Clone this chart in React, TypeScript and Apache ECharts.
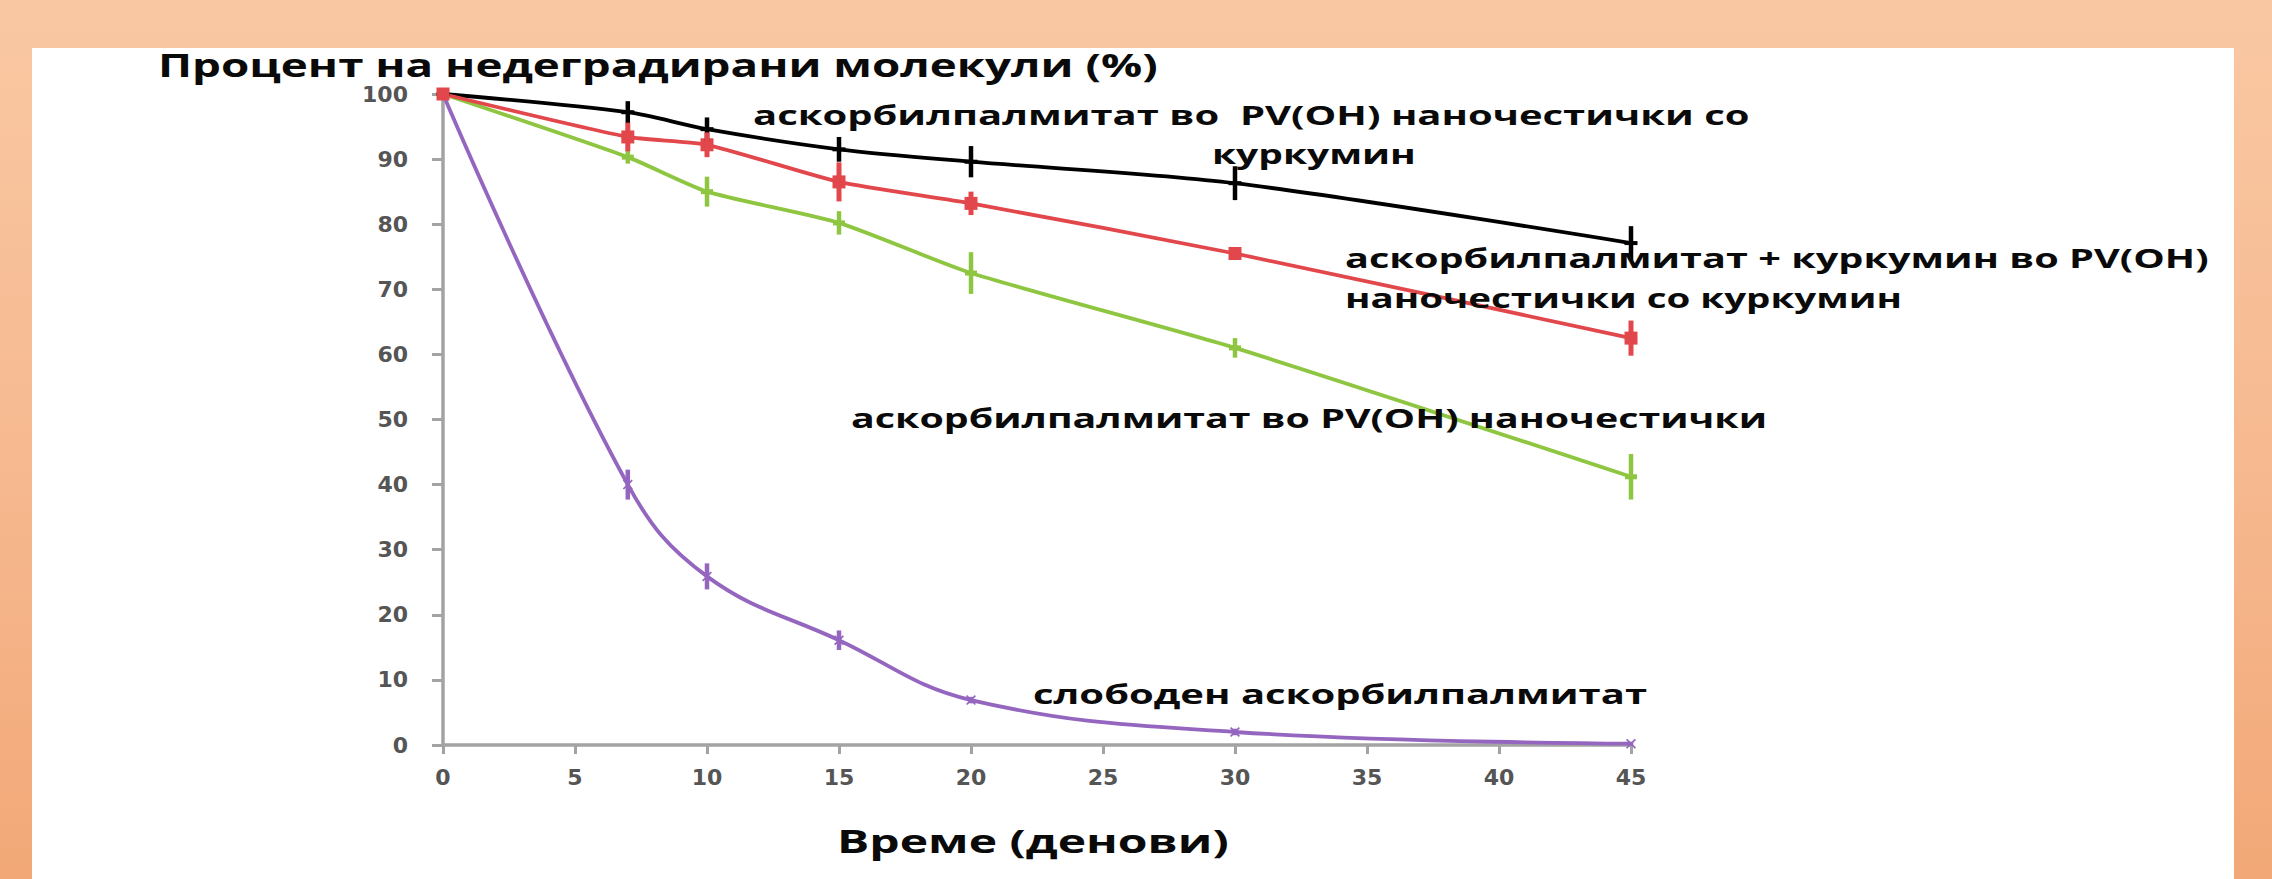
import React, { useEffect, useRef } from "react";
import * as echarts from "echarts";

// ---- data ----
const days = [0, 7, 10, 15, 20, 30, 45];
const xTicks = [0, 5, 10, 15, 20, 25, 30, 35, 40, 45];
const yTicks = [0, 10, 20, 30, 40, 50, 60, 70, 80, 90, 100];

const blackName = "аскорбилпалмитат во PV(OH) наночестички со куркумин";
const blackValues = [100, 97.2, 94.6, 91.5, 89.6, 86.3, 77.1];
const blackErrors = [0, 1.7, 1.8, 1.9, 2.4, 2.6, 2.6];

const redName = "аскорбилпалмитат + куркумин во PV(OH) наночестички со куркумин";
const redValues = [100, 93.4, 92.2, 86.5, 83.2, 75.5, 62.5];
const redErrors = [0, 2.2, 1.9, 3.0, 1.8, 0.5, 2.7];

const greenName = "аскорбилпалмитат во PV(OH) наночестички";
const greenValues = [100, 90.3, 85.0, 80.2, 72.5, 61.0, 41.2];
const greenErrors = [0, 1.0, 2.3, 1.8, 3.2, 1.5, 3.5];

const purpleName = "слободен аскорбилпалмитат";
const purpleValues = [100, 40.0, 25.9, 16.1, 6.9, 2.0, 0.2];
const purpleErrors = [0, 2.3, 2.0, 1.5, 0.5, 0.5, 0.3];

const titleText = "Процент на недеградирани молекули (%)";
const xAxisTitle = "Време (денови)";
const labelTexts = [
  "аскорбилпалмитат во  PV(OH) наночестички со",
  "куркумин",
  "аскорбилпалмитат + куркумин во PV(OH)",
  "наночестички со куркумин",
  "аскорбилпалмитат во PV(OH) наночестички",
  "слободен аскорбилпалмитат",
];

// ---- layout / style ----
const W = 2272;
const H = 879;
const FONT = '"Open Sans", "Noto Sans", sans-serif';

// [left, right, baseline, fontSize]
const textBoxes: [number, number, number, number][] = [
  [753, 1750, 122, 27],
  [1212, 1416, 161, 27],
  [1345, 2209, 265, 27],
  [1345, 1902, 305, 27],
  [851, 1767, 425, 27],
  [1033, 1647, 701, 27],
];
const titleBox: [number, number, number, number] = [158, 1158, 73, 32];
const axisTitleBox: [number, number, number, number] = [837, 1229, 849, 32];

function measure(text: string, size: number, weight: string) {
  const c = document.createElement("canvas");
  const ctx = c.getContext("2d");
  if (!ctx) return text.length * size * 0.55;
  ctx.font = `${weight} ${size}px ${FONT}`;
  return ctx.measureText(text).width;
}

function stretchedText(text: string, box: [number, number, number, number], weight = "bold") {
  const [l, r, base, size] = box;
  const w = measure(text, size, weight);
  const sx = (r - l) / w;
  return {
    type: "text",
    x: l,
    y: base - 0.27 * size,
    scaleX: sx,
    z: 100,
    silent: true,
    style: {
      text,
      x: 0,
      y: 0,
      fontSize: size,
      fontFamily: FONT,
      fontWeight: weight,
      fill: "#0a0a0a",
      align: "left",
      verticalAlign: "middle",
    },
  };
}

function errorSeries(values: number[], errors: number[], color: string, width: number) {
  const data = days
    .map((d, i) => [d, values[i] - errors[i], values[i] + errors[i], errors[i]])
    .filter((p) => p[3] > 0);
  return {
    type: "custom",
    silent: true,
    z: 5,
    encode: { x: 0, y: [1, 2] },
    data,
    renderItem: (params: any, api: any) => {
      const x = api.value(0);
      const p1 = api.coord([x, api.value(1)]);
      const p2 = api.coord([x, api.value(2)]);
      return {
        type: "line",
        shape: { x1: p1[0], y1: p1[1], x2: p2[0], y2: p2[1] },
        style: { stroke: color, lineWidth: width },
      };
    },
  };
}

function lineSeries(name: string, values: number[], color: string, symbol: string, symbolSize: any, smooth: number) {
  return {
    name,
    type: "line",
    data: days.map((d, i) => [d, values[i]]),
    smooth,
    symbol,
    symbolSize,
    showSymbol: true,
    z: 4,
    lineStyle: { color, width: 3.8 },
    itemStyle: { color, borderWidth: 0 },
  };
}

const DASH = "path://M0,0H12V4H0Z";
const XMARK = "path://M0,1.2L1.2,0L5,3.8L8.8,0L10,1.2L6.2,5L10,8.8L8.8,10L5,6.2L1.2,10L0,8.8L3.8,5Z";

export default function App() {
  const ref = useRef<HTMLDivElement>(null);

  useEffect(() => {
    document.body.style.margin = "0";
    if (!ref.current) return;
    const chart = echarts.init(ref.current, null, { renderer: "svg" });
    const axisColor = "#a3a3a3";
    chart.setOption({
      animation: false,
      backgroundColor: "transparent",
      grid: { left: 443, right: W - 1631, top: 94, bottom: H - 745, containLabel: false },
      xAxis: {
        type: "value",
        min: xTicks[0],
        max: xTicks[xTicks.length - 1],
        interval: 5,
        splitLine: { show: false },
        axisLine: { show: true, onZero: false, lineStyle: { color: axisColor, width: 3.5 } },
        axisTick: { show: true, length: 9, lineStyle: { color: axisColor, width: 3 } },
        axisLabel: {
          margin: 21,
          color: "#555555",
          fontSize: 22,
          fontWeight: "bold",
          fontFamily: "DejaVu Sans",
        },
      },
      yAxis: {
        type: "value",
        min: yTicks[0],
        max: yTicks[yTicks.length - 1],
        interval: 10,
        splitLine: { show: false },
        axisLine: { show: true, onZero: false, lineStyle: { color: axisColor, width: 3.5 } },
        axisTick: { show: true, length: 11, lineStyle: { color: axisColor, width: 3 } },
        axisLabel: {
          margin: 35,
          color: "#555555",
          fontSize: 22,
          fontWeight: "bold",
          fontFamily: "DejaVu Sans",
        },
      },
      series: [
        lineSeries(purpleName, purpleValues, "#9466bf", XMARK, 10, 0.4),
        errorSeries(purpleValues, purpleErrors, "#9466bf", 4.5),
        lineSeries(greenName, greenValues, "#8ec641", DASH, [12, 5], 0.2),
        errorSeries(greenValues, greenErrors, "#8ec641", 4.5),
        lineSeries(blackName, blackValues, "#000000", DASH, [13, 4], 0.3),
        errorSeries(blackValues, blackErrors, "#000000", 4.5),
        lineSeries(redName, redValues, "#e2474b", "rect", 13, 0.2),
        errorSeries(redValues, redErrors, "#e2474b", 5),
      ],
      graphic: [
        stretchedText(titleText, titleBox, "bold"),
        stretchedText(xAxisTitle, axisTitleBox, "bold"),
        ...labelTexts.map((t, i) => stretchedText(t, textBoxes[i], "bold")),
      ],
    });
    return () => chart.dispose();
  }, []);

  return (
    <div
      style={{
        position: "relative",
        width: W,
        height: H,
        overflow: "hidden",
        background: "linear-gradient(to bottom, #f9c8a3 0%, #f6b88f 55%, #f2a877 100%)",
      }}
    >
      <div
        style={{
          position: "absolute",
          left: 32,
          top: 48,
          width: 2234 - 32,
          height: H - 48,
          background: "#ffffff",
        }}
      />
      <div ref={ref} style={{ position: "absolute", left: 0, top: 0, width: W, height: H }} />
    </div>
  );
}
